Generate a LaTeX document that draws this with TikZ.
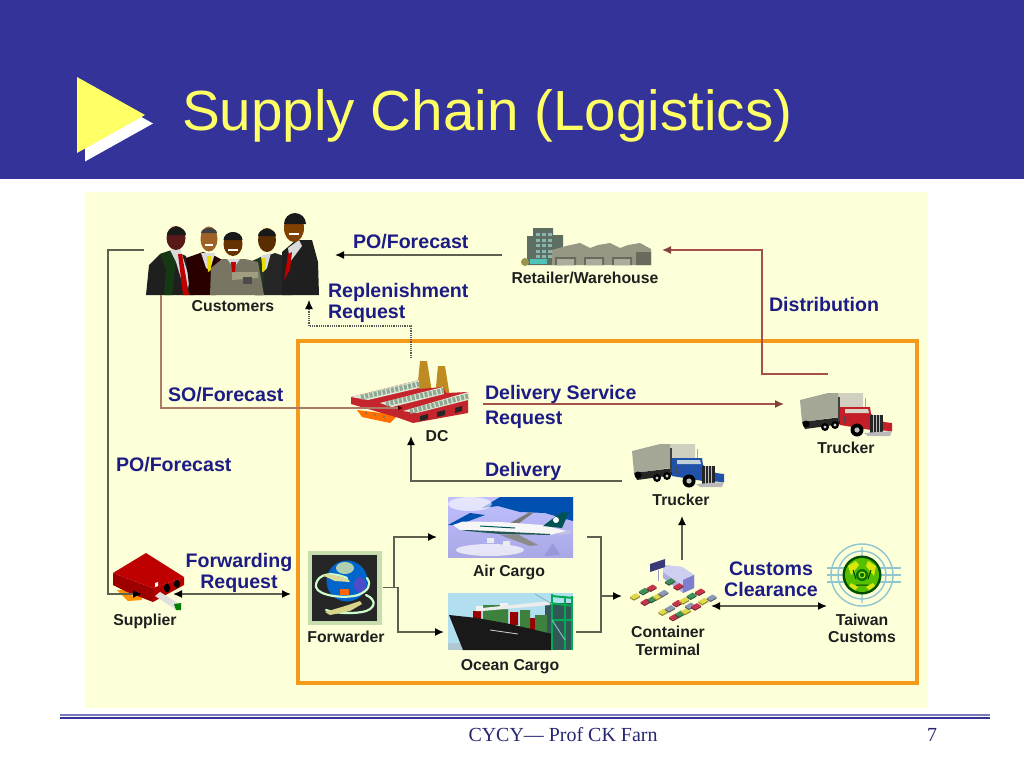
\documentclass[tikz,border=0pt]{standalone}
\usepackage{fontspec}
\setmainfont{Liberation Sans}
\newfontfamily\footfont{Liberation Serif}
\usetikzlibrary{arrows.meta}
\definecolor{bandblue}{HTML}{333399}
\definecolor{ttlyellow}{HTML}{FFFF66}
\definecolor{panelbg}{HTML}{FDFFD9}
\definecolor{framecol}{HTML}{F49B1C}
\definecolor{lblblue}{HTML}{1C1C84}
\definecolor{linegray}{HTML}{5E6050}
\definecolor{linered}{HTML}{A5504A}
\definecolor{linerose}{HTML}{AD7A68}
\definecolor{cont0}{HTML}{C8324A}
\definecolor{cont1}{HTML}{3E8E58}
\definecolor{cont2}{HTML}{E0D848}
\definecolor{cont3}{HTML}{8C98B4}
\definecolor{chimney}{HTML}{BE8A22}
\definecolor{dcred}{HTML}{C4242C}
\definecolor{roofpale}{HTML}{DDE8D4}
\definecolor{roofgrid}{HTML}{8FA892}
\definecolor{ringcol}{HTML}{8FC6CF}
\definecolor{bldg}{HTML}{5E6E60}
\definecolor{wareh}{HTML}{979884}
\definecolor{trailerA}{HTML}{A4A696}
\definecolor{trailerB}{HTML}{D0CFC0}
\definecolor{cabred}{HTML}{C41E28}
\definecolor{cabblue}{HTML}{1F52A8}
\tikzset{
 lbl/.style={font=\fontsize{19.6}{21}\selectfont\bfseries, text=lblblue, inner sep=0pt, outer sep=0pt},
 captxt/.style={font=\fontsize{15.8}{17.5}\selectfont\bfseries, text=black!88, inner sep=0pt, outer sep=0pt, align=center},
 iconbox/.style={inner sep=0pt, outer sep=0pt, minimum width=#1},
 graylink/.style={draw=linegray, line width=1.5pt, -{Latex[length=9pt,width=8pt,black]}},
 graydouble/.style={draw=linegray, line width=1.5pt, {Latex[length=9pt,width=8pt,black]}-{Latex[length=9pt,width=8pt,black]}},
 redlink/.style={draw=linered, line width=1.4pt, -{Latex[length=9pt,width=8pt,linered!80!black]}},
 roselink/.style={draw=linerose, line width=1.4pt, -{Latex[length=5pt,width=5pt,black!70!red]}},
 dotlink/.style={draw=black!65, line width=1.2pt, densely dotted, -{Latex[length=9pt,width=8pt,black]}},
 plainline/.style={draw=linegray, line width=1.5pt},
 roofgridline/.style={draw=roofgrid, line width=5pt, dash pattern=on 3pt off 1.4pt},
 swirl/.style={draw=white!80!green, line width=2.2pt, line cap=round},
}
\newcommand{\truckicon}[4]{% x, y, cab colour, window colour
 \begin{scope}[shift={(#1,#2)}]
  \fill[trailerB] (28,1)--(63,1)--(63,22)--(28,26)--cycle;
  \fill[trailerA] (0,8)--(28,1)--(38,1)--(38,25)--(2,30)--cycle;
  \fill[black!85] (2,30)--(42,25)--(42,32)--(5,37)--cycle;
  \fill[black] (6,32) circle[radius=3.5pt] (25,35) circle[radius=4pt] (35,33) circle[radius=4pt];
  \fill[gray!40] (25,35) circle[radius=1.6pt] (35,33) circle[radius=1.6pt];
  \fill[black!75] (37.5,5) rectangle (40,29);
  \fill[gray!70] (64.5,6) rectangle (66,15);
  \fill[#3] (40,15)--(70,15)--(71,22)--(84,30)--(92,31)--(92,39)--(71,38)--(40,33)--cycle;
  \fill[#4] (45,17)--(68,17)--(69,21)--(45,21)--cycle;
  \fill[black!70] (43,24) rectangle (46,31);
  \fill[black!85] (70,23)--(83,23)--(83,41)--(70,41)--cycle;
  \draw[gray!50,line width=.5pt] (73,23)--(73,41) (76,23)--(76,41) (79,23)--(79,41);
  \fill[gray!55] (64,41)--(92,39)--(90,44)--(68,44)--cycle;
  \fill[black] (57,38) circle[radius=6.5pt];
  \fill[gray!50] (57,38) circle[radius=2.6pt];
 \end{scope}}
\begin{document}
\begin{tikzpicture}[x=1pt,y=-1pt]
\useasboundingbox (0,0) rectangle (1024,768);
% slide
\fill[white] (0,0) rectangle (1024,768);
\fill[bandblue] (0,0) rectangle (1024,179);
\fill[white] (85,85.5)--(153,123.5)--(85,161.5)--cycle;
\fill[ttlyellow] (77,77)--(145,115)--(77,153)--cycle;
\node[anchor=base west, inner sep=0pt, text=ttlyellow, font=\fontsize{56.6}{60}\selectfont] (title) at (182,130) {Supply Chain (Logistics)};
\fill[panelbg] (85,192) rectangle (928,708);
\draw[framecol, line width=3.6pt] (298,341) rectangle (917,683);
% footer
\fill[bandblue!65!white] (60,714.3) rectangle (990,716.2);
\fill[bandblue] (60,717.4) rectangle (990,719.3);
\node[anchor=base, inner sep=0pt, font=\footfont\fontsize{19.95}{22}\selectfont, text=bandblue!75!black] (foot) at (563,741) {CYCY— Prof CK Farn};
\node[anchor=base, inner sep=0pt, font=\footfont\fontsize{19.95}{22}\selectfont, text=bandblue!75!black] (pageno) at (932,741) {7};
% invisible extents of the icons
\node[iconbox=191pt, minimum height=88pt] (customers) at (239.5,256) {};
\node[iconbox=160pt, minimum height=44pt] (retailer) at (582,250) {};
\node[iconbox=108pt, minimum height=60pt] (redtruck) at (838,404) {};
\node[iconbox=132pt, minimum height=78pt] (dc) at (417,397) {};
\node[iconbox=102pt, minimum height=73pt] (bluetruck) at (673,479.5) {};
\node[iconbox=71pt, minimum height=57pt] (supplier) at (148.5,581.5) {};
\node[iconbox=92pt, minimum height=69pt] (forwarder) at (337,587.5) {};
\node[iconbox=150pt, minimum height=60pt] (aircargo) at (512,527) {};
\node[iconbox=132pt, minimum height=59pt] (oceancargo) at (510,621.5) {};
\node[iconbox=89pt, minimum height=62pt] (terminal) at (666.5,591) {};
\node[iconbox=74pt, minimum height=63pt] (customs) at (864,576.5) {};
% connectors under the icons
\draw[graylink] ([yshift=-5pt]retailer.west) -- ([yshift=1pt]customers.east);
\draw[redlink] ([xshift=44pt]redtruck.north west) -- ++(-66,0) |- (retailer.east);
\draw[dotlink] ([xshift=-6pt,yshift=0pt]dc.north) -- ++(0,-32) -| ([xshift=165pt]customers.south west);
\draw[graylink] (forwarder.east) -- ++(11,0) |- ([yshift=-10pt]aircargo.west);
\draw[graylink] (forwarder.east) -- ++(15,0) |- ([yshift=-10.5pt]oceancargo.west);
\draw[plainline] ([yshift=-10pt]aircargo.east) -- ++(14,0) |- ([yshift=-10.5pt]oceancargo.east);
\draw[graylink] ([yshift=-5pt,xshift=-21pt]terminal.west) -- ([yshift=-5pt]terminal.west);
\draw[graylink] ([xshift=15.5pt]terminal.north) -- ([xshift=9pt]bluetruck.south);
\draw[graylink] ([yshift=-1.5pt]bluetruck.west) -- ++(-211,0) -- ([xshift=-6pt]dc.south);
\draw[redlink] ([yshift=-7pt]dc.east) -- (redtruck.west);
% customers
\fill[black!88] (146,295)--(149,265)--(160,254)--(172,250)--(186,256)--(194,295)--cycle;
\fill[gray!55!green!30!black] (160,254)--(172,250)--(176,262)--(172,295)--(164,295)--(166,270)--cycle;
\fill[white!85!black] (170,250)--(180,248)--(190,280)--(186,295)--(176,262)--cycle;
\fill[red!75!black] (178,254)--(182,254)--(189,295)--(183,295)--cycle;
\fill[black!60!red!40!black] (186,258)--(203,252)--(215,256)--(226,262)--(216,295)--(190,295)--cycle;
\fill[white!85!black] (201,253)--(215,253)--(210,270)--(206,268)--cycle;
\fill[yellow!80!olive] (207,256)--(211,256)--(211,270)--(208,272)--cycle;
\fill[black!85] (250,262)--(275,253)--(290,258)--(292,295)--(255,295)--cycle;
\fill[gray!75!green!35!black] (250,262)--(265,255)--(262,295)--(255,295)--cycle;
\fill[white!85!black] (261,256)--(271,253)--(267,268)--(263,272)--cycle;
\fill[yellow!80!olive] (262,258)--(266,258)--(265,270)--(262,272)--cycle;
\fill[black!88] (282,252)--(296,240)--(312,240)--(318,262)--(319,295)--(282,295)--cycle;
\fill[white!85!black] (288,248)--(299,240)--(302,246)--(290,262)--cycle;
\fill[red!75!black] (288,254)--(292,252)--(290,270)--(284,280)--cycle;
\fill[gray!70!yellow!60!black] (210,295)--(211,268)--(222,259)--(245,259)--(258,262)--(264,295)--cycle;
\fill[gray!45!yellow!50!black!70] (232,272)--(258,272)--(258,278)--(232,280)--cycle;
\fill[white!85!black] (227,259)--(240,259)--(234,268)--cycle;
\fill[red!75!black] (231,262)--(236,262)--(235,272)--(232,272)--cycle;
\fill[black!70] (243,277) rectangle (252,284);
\fill[black!60!red!70!black!90] (176,238) ellipse[x radius=9.5pt,y radius=12pt];
\fill[black!90] (167,235) arc[start angle=180,end angle=0,x radius=9.5pt,y radius=8pt] -- cycle;
\fill[orange!55!black!85] (209,239) ellipse[x radius=8.5pt,y radius=12.5pt];
\fill[black!75] (201,233) arc[start angle=180,end angle=0,x radius=8pt,y radius=5pt] -- cycle;
\fill[white] (205,243.5) rectangle (213,245.5);
\fill[orange!40!black] (233,244) ellipse[x radius=9.5pt,y radius=12pt];
\fill[black!90] (223.5,240) arc[start angle=180,end angle=0,x radius=9.5pt,y radius=8pt] -- cycle;
\fill[white] (228,249) rectangle (238,251);
\fill[orange!35!black] (267,240) ellipse[x radius=9pt,y radius=12pt];
\fill[black!90] (258,236) arc[start angle=180,end angle=0,x radius=9pt,y radius=7pt] -- cycle;
\fill[orange!50!black] (294,228) ellipse[x radius=10pt,y radius=14pt];
\fill[black!90] (284,224) arc[start angle=180,end angle=0,x radius=11pt,y radius=11pt] -- cycle;
\fill[white] (289,233) rectangle (299,235);
% retailer / warehouse
\fill[bldg] (527,236)--(533,236)--(533,228)--(553,228)--(553,235)--(563,235)--(563,265)--(527,265)--cycle;
\foreach \r in {0,1,2,3,4}{\foreach \c in {0,1,2}{\fill[teal!45!white!75!gray] (536+\c*6,233+\r*5.6) rectangle ++(4,3);}}
\fill[wareh] (552,250)--(566,246)--(580,243)--(590,248)--(598,245)--(610,243)--(620,248)--(628,245)--(640,243)--(651,249)--(651,265)--(552,265)--cycle;
\fill[wareh!70!black] (555,257) rectangle (576,265) (584,257) rectangle (604,265) (612,257) rectangle (632,265) (636,252) rectangle (651,265);
\fill[wareh!80!white] (557,259) rectangle (574,265) (586,259) rectangle (602,265) (614,259) rectangle (630,265);
\fill[cyan!55!green!70] (530,259) rectangle (547,264);
\fill[olive!70!black!70] (525,262) circle[radius=4pt];
% DC factory
\fill[chimney] (420,361)--(427,361)--(432,392)--(417,392)--cycle;
\fill[chimney] (438,366)--(445,366)--(450,397)--(435,397)--cycle;
\fill[orange!75!yellow!70!red] (357,410)--(398,415)--(390,423)--(362,417)--cycle;
\fill[black!55] (366,413) circle[radius=1.2pt] (375,415) circle[radius=1.2pt] (384,417) circle[radius=1.2pt];
\fill[dcred] (351,397)--(419,380)--(419,389)--(443,387)--(446,393)--(468,392)--(468,413)--(413,423)--(399,418)--(351,404)--cycle;
\fill[roofpale] (351,397)--(419,380)--(419,388)--(368,400)--cycle;
\fill[roofpale] (380,403)--(443,387)--(444,394)--(392,407)--cycle;
\fill[roofpale] (403,411)--(468,392)--(468,400)--(417,413)--cycle;
\draw[roofgridline] (361,397.3)--(419,384);
\draw[roofgridline] (386,404)--(443.5,390.5);
\draw[roofgridline] (410,411.5)--(468,396);
\fill[black!85] (420,416)--(428,414)--(428,419)--(420,421)--cycle (437,412)--(445,410)--(445,415)--(437,417)--cycle (455,408)--(462,406)--(462,411)--(455,413)--cycle;
\draw[roselink] ([xshift=17pt,yshift=5pt]customers.south west) -- ++(0,113) -- ([xshift=52pt,yshift=-11pt]dc.west);
% trucks
\truckicon{800}{392}{cabred}{yellow!20!gray!45}
\truckicon{632}{443}{cabblue}{cyan!25!gray!45}
% supplier
\fill[orange!85!yellow] (117,590)--(140,590)--(142,600)--(128,601)--cycle;
\fill[white!80!orange] (122,588)--(134,586)--(145,594)--(134,597)--cycle;
\fill[red!62!black] (113,573)--(153,588)--(153,602)--(127,592)--(113,585)--cycle;
\fill[red!70!black] (153,588)--(184,577)--(184,585)--(153,602)--cycle;
\fill[red!75!black] (113,573)--(146,553)--(184,577)--(153,588)--cycle;
\fill[black] (167,588) ellipse[x radius=3pt,y radius=4.5pt] (177,584) ellipse[x radius=3pt,y radius=4pt];
\fill[white] (155,583)--(158,582)--(158,586)--(155,587)--cycle;
\fill[gray!25!white] (155,596)--(160,592)--(178,603)--(175,609)--cycle;
\fill[green!50!black] (174,604)--(181,603)--(181,610)--(176,610)--cycle;
% forwarder
\fill[green!25!gray!35!panelbg] (308,551) rectangle (382,625);
\fill[black!85] (312,555) rectangle (377,621);
\fill[blue!50!cyan!80!black] (347,581) circle[radius=20.5pt];
\fill[green!25!gray!50] (345,568) ellipse[x radius=9pt,y radius=6pt];
\fill[blue!70!black!70] (360,585) ellipse[x radius=6pt,y radius=8pt];
\fill[orange!80!red] (340,589) rectangle (349,595);
\draw[swirl] (347,578) .. controls (325,569) and (315,578) .. (316,587) .. controls (318,596) and (345,599) .. (358,595) .. controls (368,591) and (372,585) .. (367,578);
\draw[swirl] (366,595) .. controls (378,600) and (375,610) .. (362,612) .. controls (350,614) and (335,613) .. (326,610);
\fill[white!70!olive] (322,575)--(330,574)--(348,579)--(350,582)--(335,581)--cycle;
\fill[white!65!olive] (325,612)--(345,606)--(360,601)--(362,604)--(350,611)--(330,615)--cycle;
% air cargo photo
\shade[top color=white!75!blue,bottom color=white!70!blue!80!gray] (448,497) rectangle (573,557);
\fill[blue!55!cyan!70!black] (500,497)--(573,497)--(573,521)--(545,513)--(520,512)--(498,506)--(482,508)--cycle;
\fill[blue!55!cyan!70!black] (448,525)--(470,513)--(485,515)--(458,525)--cycle;
\fill[white,opacity=.6] (470,504) ellipse[x radius=22pt,y radius=7pt];
\fill[white,opacity=.7] (490,550) ellipse[x radius=34pt,y radius=6pt];
\fill[blue!45!gray!60,opacity=.7] (548,550)--(553,543)--(560,555)--(544,556)--cycle;
\fill[gray!50!black!70] (503,527)--(530,512)--(533,513)--(515,526)--cycle;
\fill[gray!55!blue!35] (563,530)--(572,530)--(570,534)--(558,535)--cycle;
\fill[white!97!black] (453,525)--(463,521.5)--(500,522)--(543,525)--(566,531)--(550,535)--(500,533)--(460,530)--cycle;
\fill[teal!45!black!85] (468,530)--(500,531.5)--(550,534)--(550,535)--(500,534)--(462,530.5)--cycle;
\draw[teal!70!black,line width=1pt] (480,526)--(515,528);
\fill[teal!65!black] (543,526)--(560,513)--(569,512)--(562,528)--cycle;
\fill[white] (556,520) circle[radius=3pt];
\fill[gray!70!black!70] (500,535)--(517,534)--(538,545)--(530,546)--cycle;
\fill[white!92!black] (487,538) rectangle (494,543) (503,541) rectangle (510,546);
% ocean cargo photo
\fill[cyan!30!white!90!gray] (448,593) rectangle (573,650);
\fill[cyan!30!gray!55] (448,643) rectangle (465,650);
\fill[teal!35!black!80] (545,603) rectangle (573,650);
\fill[red!60!black] (473,611) rectangle (481,622) (510,612) rectangle (518,625) (525,618) rectangle (535,632);
\fill[green!35!gray!75!black] (483,605) rectangle (508,624) (520,610) rectangle (530,628) (535,615) rectangle (547,636);
\fill[white!90!gray] (476,606) rectangle (483,611) (500,603) rectangle (508,609);
\fill[white!85!gray] (482,608)--(550,601)--(550,605)--(482,611)--cycle;
\fill[black!90] (449,615)--(477,618)--(510,624)--(552,634)--(552,650)--(463,650)--cycle;
\draw[white!65!gray,line width=.8pt] (490,630)--(518,634);
\draw[teal!65!green,line width=2pt] (552,594)--(552,650) (565,596)--(565,650) (572,596)--(572,650);
\draw[teal!65!green,line width=2pt] (550,603)--(573,606) (552,620)--(572,620) (552,596)--(573,598);
\draw[teal!50!white,line width=1pt] (535,594)--(552,604) (552,620)--(565,640);
% container terminal
\fill[gray!60!blue!45] (663,565)--(682,567)--(694,575)--(694,588)--(683,593)--(663,578)--cycle;
\fill[gray!45!blue!25] (663,565)--(682,567)--(694,575)--(694,580)--(682,585)--(663,572)--cycle;
\fill[blue!45!gray!70] (683,580)--(694,575)--(694,588)--(683,593)--cycle;
\fill[blue!35!gray!70!black] (650,564)--(665,559)--(665,567)--(650,572)--cycle;
\draw[gray!70!blue!60,line width=1pt] (658,570)--(658,581);
\foreach \x/\y/\c in {45/140/2,72/124/1,95/114/0,77/156/0,97/148/1,113/140/2,130/130/3,130/186/2,150/176/3,172/160/0,192/152/2,215/138/1,240/126/0,162/202/0,180/192/1,198/184/2,210/168/3,228/170/0,250/154/2,275/144/3,150/95/1,175/110/0}{
  \begin{scope}[shift={(620+\x/3,550+\y/3)}]
   \fill[cont\c!65!black] (-5,0)--(-1,2.5)--(5,-1)--(5,.6)--(-1,4)--(-5,1.6)--cycle;
   \fill[cont\c] (-5,0)--(1,-3.5)--(5,-1)--(-1,2.5)--cycle;
  \end{scope}}
% Taiwan customs
\draw[ringcol,line width=1.4pt] (862,575) circle[radius=31pt] (862,575) circle[radius=24pt] (862,547)--(862,603);
\draw[ringcol,line width=1.3pt] (827,568)--(901,568) (827,575)--(901,575) (827,582)--(901,582);
\fill[green!30!black] (862,575) circle[radius=19.5pt];
\fill[green!55!yellow!75!black] (862,575) circle[radius=17pt];
\fill[yellow!85!green] (848,566)--(856,561)--(859,565)--(851,575)--cycle (876,566)--(868,561)--(866,566)--(874,576)--cycle (851,583)--(858,587)--(855,590)--(849,586)--cycle (873,583)--(866,587)--(869,590)--(875,586)--cycle;
\fill[green!45!black] (862,575) circle[radius=6pt];
\draw[yellow!80!green,line width=1pt] (862,575) circle[radius=3pt];
\draw[green!25!black,line width=1pt] (853,570)--(856,579) (871,570)--(868,579) (856,585)--(868,585);
% connectors drawn over the icons
\draw[graylink] ([yshift=6pt]customers.west) -- ++(-36,0) |- ([xshift=29pt,yshift=-12.5pt]supplier.west);
\draw[graydouble] ([xshift=-11pt,yshift=-12.5pt]supplier.east) -- ([yshift=-6.5pt]forwarder.west);
\draw[graydouble] ([yshift=-15pt]terminal.east) -- ([yshift=-29.5pt]customs.west);
% black captions
\node[captxt] (capCustomers) at (233,306) {Customers};
\node[captxt] (capRetailer) at (585,278) {Retailer/Warehouse};
\node[captxt] (capDC) at (437,436) {DC};
\node[captxt] (capTrucker1) at (846,448) {Trucker};
\node[captxt] (capTrucker2) at (681,500) {Trucker};
\node[captxt] (capAir) at (509,572) {Air Cargo};
\node[captxt] (capOcean) at (510,667) {Ocean Cargo};
\node[captxt] (capForwarder) at (346,637) {Forwarder};
\node[captxt] (capSupplier) at (145,621) {Supplier};
\node[captxt] (capTerminal) at (668,641) {Container\\Terminal};
\node[captxt] (capCustoms) at (862,628.5) {Taiwan\\Customs};
% blue labels
\node[lbl,anchor=west] (lblPO1) at (353,242) {PO/Forecast};
\node[lbl,anchor=west,align=left] (lblRep) at (328,303) {Replenishment\\Request};
\node[lbl,anchor=west] (lblDist) at (769,304) {Distribution};
\node[lbl,anchor=west] (lblSO) at (168,395) {SO/Forecast};
\node[lbl,anchor=west] (lblPO2) at (116,465) {PO/Forecast};
\node[lbl,anchor=west] (lblDS) at (485,394) {Delivery Service};
\node[lbl,anchor=west] (lblReq) at (485,420) {Request};
\node[lbl,anchor=west] (lblDel) at (485,471) {Delivery};
\node[lbl,align=center] (lblFwd) at (239,572.5) {Forwarding\\Request};
\node[lbl,align=center] (lblCust) at (771,579.5) {Customs\\Clearance};
\end{tikzpicture}
\end{document}
